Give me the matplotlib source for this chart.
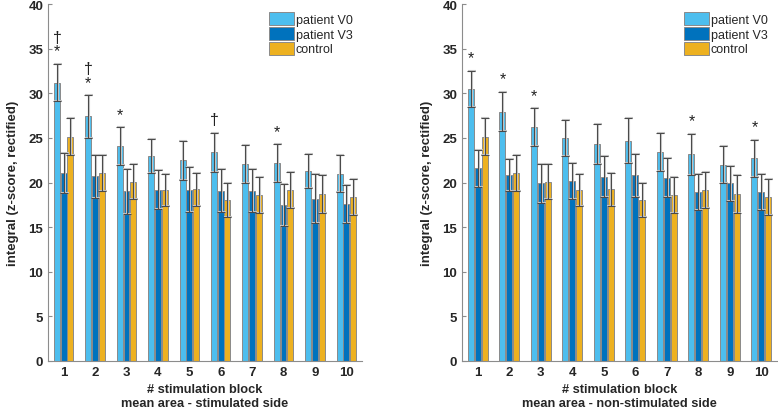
import numpy as np
import matplotlib.pyplot as plt

plt.rcParams['font.family'] = ['Liberation Sans', 'DejaVu Sans']

blocks = np.arange(1, 11)

# stimulated side
stim_v0 = [31.2, 27.4, 24.1, 23.0, 22.5, 23.4, 22.1, 22.2, 21.3, 21.0]
stim_v0_err = [2.1, 2.4, 2.1, 1.9, 2.2, 2.2, 2.1, 2.1, 1.9, 2.05]
stim_v3 = [21.1, 20.7, 19.0, 19.2, 19.2, 19.1, 19.1, 17.45, 18.2, 17.6]
stim_v3_err = [2.25, 2.4, 2.5, 2.2, 2.55, 2.4, 2.45, 2.35, 2.7, 2.15]
stim_marks = ['†\n*', '†\n*', '*', '', '', '†', '', '*', '', '']

# non-stimulated side
non_v0 = [30.5, 27.95, 26.2, 25.0, 24.3, 24.7, 23.45, 23.15, 22.0, 22.7]
non_v0_err = [2.0, 2.2, 2.1, 2.0, 2.25, 2.5, 2.15, 2.3, 2.1, 2.1]
non_v3 = [21.6, 20.85, 19.9, 20.2, 20.65, 20.8, 20.55, 18.9, 19.9, 18.9]
non_v3_err = [2.05, 1.8, 2.2, 2.0, 2.3, 2.4, 2.15, 2.0, 1.95, 2.0]
non_marks = ['*', '*', '*', '', '', '', '', '*', '', '*']

# control (same in both panels)
ctrl = [25.15, 21.05, 20.1, 19.2, 19.25, 18.05, 18.6, 19.15, 18.7, 18.4]
ctrl_err = [2.05, 2.0, 2.0, 1.8, 1.85, 1.95, 2.0, 2.05, 2.15, 2.0]

colors = ['#4DBEEE', '#0072BD', '#EDB120']
names = ['patient V0', 'patient V3', 'control']
W, H = 778, 410


def panel(ax, v0, v0e, v3, v3e, marks, title):
    w = 0.19
    offs = [-0.215, 0.0, 0.215]
    series = [(v0, v0e), (v3, v3e), (ctrl, ctrl_err)]
    for (vals, errs), off, c, nm in zip(series, offs, colors, names):
        x = blocks + off
        ax.bar(x, vals, width=w, color=c, edgecolor='#8a8a8a', linewidth=0.7,
               label=nm, zorder=2)
        ax.errorbar(x + 0.03, vals, yerr=errs, fmt='none', ecolor='#c8c8c8',
                    elinewidth=1.5, capsize=3.2, capthick=1.5, zorder=3)
        ax.errorbar(x, vals, yerr=errs, fmt='none', ecolor='#4a4a4a',
                    elinewidth=0.8, capsize=3.2, capthick=0.8, zorder=4)
    for b, m, v, e in zip(blocks, marks, v0, v0e):
        if m:
            ax.text(b - 0.215, v + e + 0.6, m, ha='center', va='bottom',
                    fontsize=11.5, color='#222222', linespacing=0.85)
    ax.set_xlim(0.5, 10.5)
    ax.set_ylim(0, 40)
    ax.set_xticks(blocks)
    ax.set_yticks(range(0, 41, 5))
    for s in ['top', 'right']:
        ax.spines[s].set_visible(False)
    for s in ['left', 'bottom']:
        ax.spines[s].set_color('#8c8c8c')
        ax.spines[s].set_linewidth(0.8)
    ax.tick_params(direction='in', length=3, color='#8c8c8c', labelsize=9.5,
                   labelcolor='#262626')
    for lbl in ax.get_xticklabels() + ax.get_yticklabels():
        lbl.set_fontweight('bold')
    ax.set_ylabel('integral (z-score, rectified)', fontsize=9.5, fontweight='bold',
                  color='#262626', labelpad=7)
    ax.set_xlabel('# stimulation block\n' + title, fontsize=9.2, fontweight='bold',
                  color='#262626', linespacing=1.25, labelpad=3.5)
    leg = ax.legend(loc='upper right', frameon=False, fontsize=9,
                    handlelength=2.0, handleheight=1.2, labelspacing=0.1,
                    handletextpad=0.1, borderaxespad=0.1,
                    bbox_to_anchor=(0.99, 0.995))
    for t in leg.get_texts():
        t.set_color('#262626')


fig = plt.figure(figsize=(W / 100, H / 100), dpi=100)
ax1 = fig.add_axes([48 / W, 1 - 362 / H, 314 / W, 357 / H])
ax2 = fig.add_axes([462 / W, 1 - 362 / H, 315 / W, 357 / H])
panel(ax1, stim_v0, stim_v0_err, stim_v3, stim_v3_err, stim_marks,
      'mean area - stimulated side')
panel(ax2, non_v0, non_v0_err, non_v3, non_v3_err, non_marks,
      'mean area - non-stimulated side')
fig.savefig('out.png', dpi=100)
